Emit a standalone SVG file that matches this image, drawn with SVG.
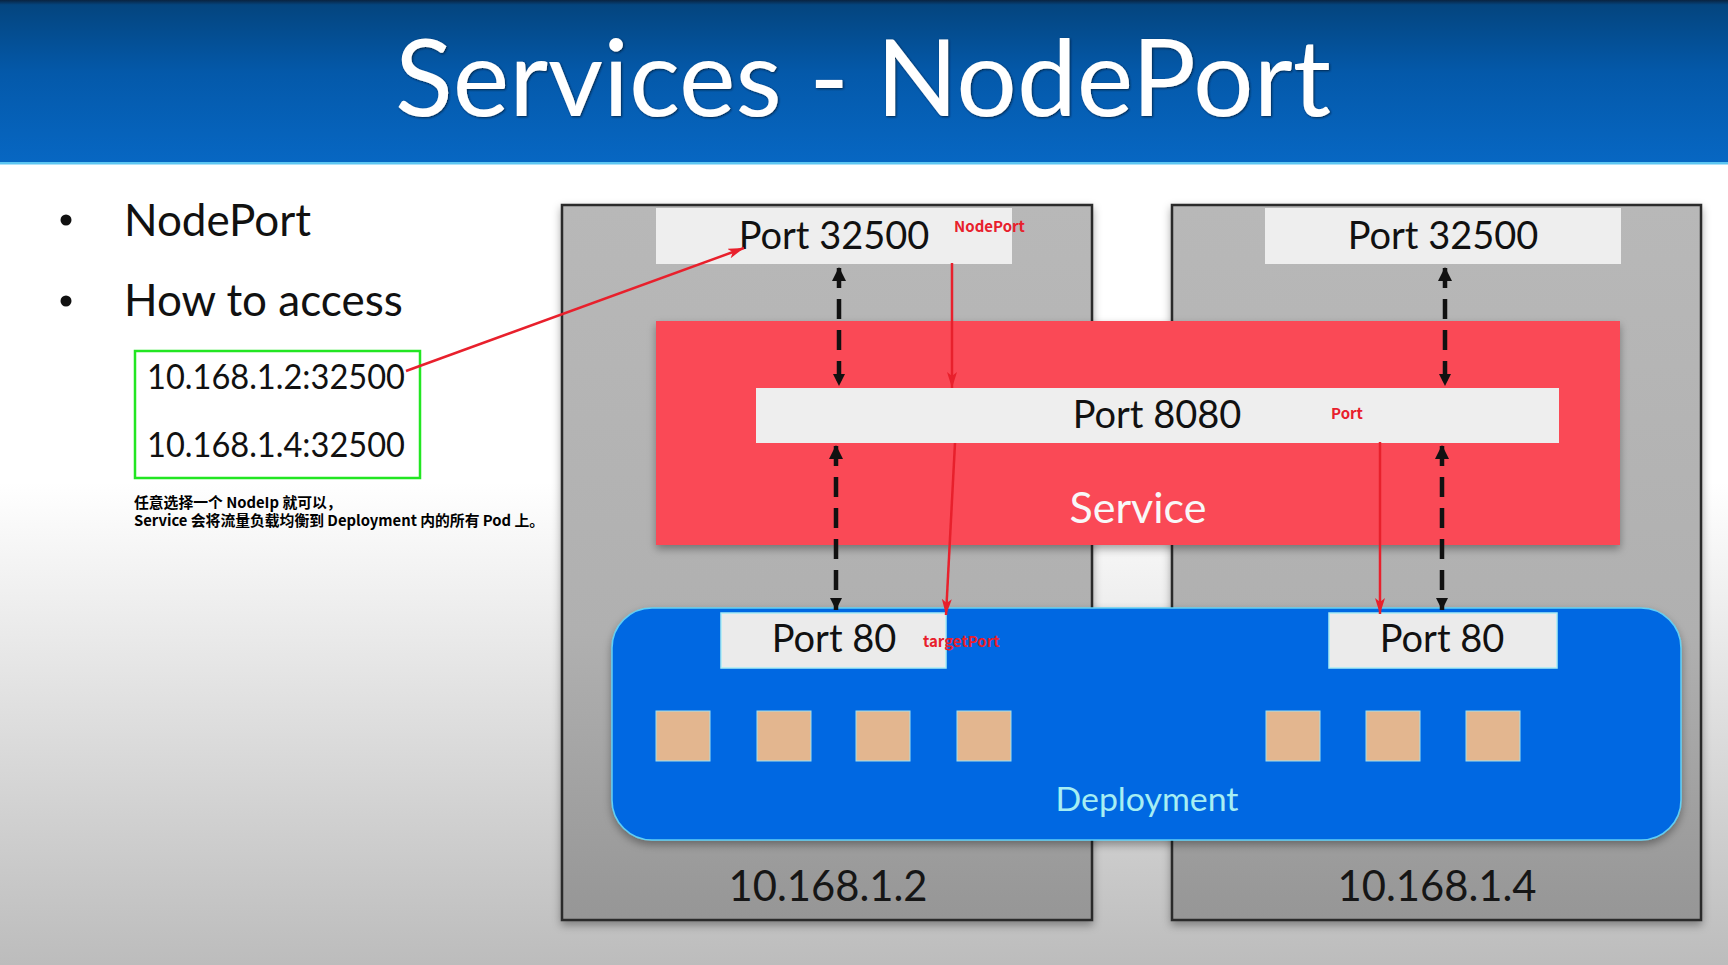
<svg xmlns="http://www.w3.org/2000/svg" width="1728" height="965" viewBox="0 0 1728 965">
  <defs>
    <linearGradient id="bgGrad" x1="0" y1="0" x2="0" y2="1">
      <stop offset="0" stop-color="#ffffff"/>
      <stop offset="0.5" stop-color="#ffffff"/>
      <stop offset="1" stop-color="#bcbcbc"/>
    </linearGradient>
    <linearGradient id="headGrad" x1="0" y1="0" x2="0" y2="1">
      <stop offset="0" stop-color="#0a2340"/>
      <stop offset="0.03" stop-color="#04457f"/>
      <stop offset="0.45" stop-color="#0459aa"/>
      <stop offset="1" stop-color="#0767c3"/>
    </linearGradient>
    <linearGradient id="nodeGrad" x1="0" y1="0" x2="0" y2="1">
      <stop offset="0" stop-color="#b8b8b8"/>
      <stop offset="0.6" stop-color="#b0b0b0"/>
      <stop offset="1" stop-color="#969696"/>
    </linearGradient>
    <filter id="shadow" x="-5%" y="-5%" width="110%" height="115%">
      <feDropShadow dx="0" dy="4" stdDeviation="4" flood-color="#000" flood-opacity="0.35"/>
    </filter>
    <filter id="titleShadow" x="-5%" y="-20%" width="110%" height="140%">
      <feDropShadow dx="1" dy="1" stdDeviation="1.2" flood-color="#001a33" flood-opacity="0.8"/>
    </filter>
    <marker id="redHead" markerUnits="userSpaceOnUse" markerWidth="18" markerHeight="12" refX="16" refY="5" orient="auto">
      <path d="M0,0 L16,5 L0,10 L4,5 Z" fill="#e8202c"/>
    </marker>
    <marker id="blkUp" markerUnits="userSpaceOnUse" markerWidth="16" markerHeight="16" refX="1" refY="7" orient="auto">
      <path d="M0,7 L14,0 L14,14 Z" fill="#111"/>
    </marker>
    <marker id="blkDown" markerUnits="userSpaceOnUse" markerWidth="14" markerHeight="14" refX="12" refY="6" orient="auto">
      <path d="M0,0 L12,6 L0,12 Z" fill="#111"/>
    </marker>
    <style>
      .sans { font-family: Lato, "Open Sans", "Liberation Sans", sans-serif; }
      .portBox { fill: #eeeeee; }
      .portTxt { font-family: Lato, "Open Sans", "Liberation Sans", sans-serif; font-size: 38px; fill: #111; }
      .node { fill: url(#nodeGrad); stroke: #2a2a2a; stroke-width: 2.5; }
      .ipTxt { font-family: Lato, "Open Sans", "Liberation Sans", sans-serif; font-size: 42px; fill: #161616; }
      .pod { fill: #e3b68f; stroke: #9fe0ee; stroke-width: 1; }
      .redLbl { font-family: "Noto Sans CJK SC", "Liberation Sans", sans-serif; font-weight: bold; font-size: 15px; fill: #e8202c; }
      .redLine { stroke: #e8202c; stroke-width: 2.5; fill: none; marker-end: url(#redHead); }
      .dash { stroke: #111; stroke-width: 4.5; stroke-dasharray: 20 11; fill: none; marker-start: url(#blkUp); marker-end: url(#blkDown); }
      .note { font-family: "Noto Sans CJK SC", "Liberation Sans", sans-serif; font-weight: bold; font-size: 14.8px; fill: #000; }
    </style>
  </defs>

  <!-- page background -->
  <rect x="0" y="0" width="1728" height="965" fill="url(#bgGrad)"/>

  <!-- title bar -->
  <g id="header">
    <rect x="0" y="0" width="1728" height="163" fill="url(#headGrad)"/>
    <rect x="0" y="162" width="1728" height="2.5" fill="#5cc6f2"/>
    <text x="863" y="116" text-anchor="middle" class="sans" font-size="107" fill="#ffffff" filter="url(#titleShadow)" textLength="936" lengthAdjust="spacingAndGlyphs">Services - NodePort</text>
  </g>

  <!-- bullet list -->
  <g id="bullets">
    <circle cx="66" cy="220" r="5.5" fill="#111"/>
    <text x="124" y="236" class="sans" font-size="44" fill="#111">NodePort</text>
    <circle cx="66" cy="301" r="5.5" fill="#111"/>
    <text x="124" y="316" class="sans" font-size="44" fill="#111">How to access</text>
  </g>

  <g id="access-box">
    <rect x="135" y="351" width="285" height="127" fill="none" stroke="#22e622" stroke-width="2.5"/>
    <text x="147" y="389" class="sans" font-size="35" fill="#111" textLength="258" lengthAdjust="spacingAndGlyphs">10.168.1.2:32500</text>
    <text x="147" y="457" class="sans" font-size="35" fill="#111" textLength="258" lengthAdjust="spacingAndGlyphs">10.168.1.4:32500</text>
  </g>

  <g id="note">
    <text x="134" y="508" class="note">任意选择一个 NodeIp 就可以，</text>
    <text x="134" y="526" class="note">Service 会将流量负载均衡到 Deployment 内的所有 Pod 上。</text>
  </g>

  <!-- worker nodes -->
  <g id="node-left">
    <rect x="562" y="205" width="530" height="715" class="node" filter="url(#shadow)"/>
    <rect x="656" y="208" width="356" height="56" class="portBox"/>
    <text x="834" y="249" text-anchor="middle" class="portTxt">Port 32500</text>
    <text x="828" y="901" text-anchor="middle" class="ipTxt" textLength="199" lengthAdjust="spacingAndGlyphs">10.168.1.2</text>
  </g>
  <g id="node-right">
    <rect x="1172" y="205" width="529" height="715" class="node" filter="url(#shadow)"/>
    <rect x="1265" y="208" width="356" height="56" class="portBox"/>
    <text x="1443" y="249" text-anchor="middle" class="portTxt">Port 32500</text>
    <text x="1437" y="901" text-anchor="middle" class="ipTxt" textLength="199" lengthAdjust="spacingAndGlyphs">10.168.1.4</text>
  </g>

  <!-- service spanning both nodes -->
  <g id="service">
    <rect x="656" y="321" width="964" height="224" fill="#fa4a56" filter="url(#shadow)"/>
    <rect x="756" y="388" width="803" height="55" class="portBox"/>
    <text x="1157" y="428" text-anchor="middle" class="portTxt">Port 8080</text>
    <text x="1138" y="523" text-anchor="middle" class="sans" font-size="43" fill="#f8f8f8">Service</text>
  </g>

  <!-- deployment with pods -->
  <g id="deployment">
    <rect x="612" y="608" width="1069" height="232" rx="40" ry="40" fill="#0467e2" stroke="#5fd0f5" stroke-width="1.5" filter="url(#shadow)"/>
    <rect x="721" y="613" width="225" height="55" fill="#ebebeb" stroke="#a8ecf5" stroke-width="1.5"/>
    <text x="834" y="652" text-anchor="middle" class="portTxt">Port 80</text>
    <rect x="1329" y="613" width="228" height="55" fill="#ebebeb" stroke="#a8ecf5" stroke-width="1.5"/>
    <text x="1442" y="652" text-anchor="middle" class="portTxt">Port 80</text>
    <rect x="656" y="711" width="54" height="50" class="pod"/>
    <rect x="757" y="711" width="54" height="50" class="pod"/>
    <rect x="856" y="711" width="54" height="50" class="pod"/>
    <rect x="957" y="711" width="54" height="50" class="pod"/>
    <rect x="1266" y="711" width="54" height="50" class="pod"/>
    <rect x="1366" y="711" width="54" height="50" class="pod"/>
    <rect x="1466" y="711" width="54" height="50" class="pod"/>
    <text x="1147" y="811" text-anchor="middle" class="sans" font-size="33" fill="#a6eef3" textLength="183" lengthAdjust="spacingAndGlyphs">Deployment</text>
  </g>

  <!-- connectors -->
  <g id="connectors">
    <line x1="839" y1="268" x2="839" y2="386" class="dash"/>
    <line x1="836" y1="446" x2="836" y2="610" class="dash"/>
    <line x1="1445" y1="268" x2="1445" y2="386" class="dash"/>
    <line x1="1442" y1="446" x2="1442" y2="610" class="dash"/>
    <line x1="406" y1="371" x2="744" y2="248" class="redLine"/>
    <line x1="952" y1="263" x2="952" y2="388" class="redLine"/>
    <line x1="955" y1="443" x2="946" y2="615" class="redLine"/>
    <line x1="1380" y1="442" x2="1380" y2="614" class="redLine"/>
  </g>

  <!-- port role labels -->
  <g id="labels">
    <text x="954" y="232" class="redLbl">NodePort</text>
    <text x="1331" y="419" class="redLbl">Port</text>
    <text x="923" y="647" class="redLbl">targetPort</text>
  </g>
</svg>
